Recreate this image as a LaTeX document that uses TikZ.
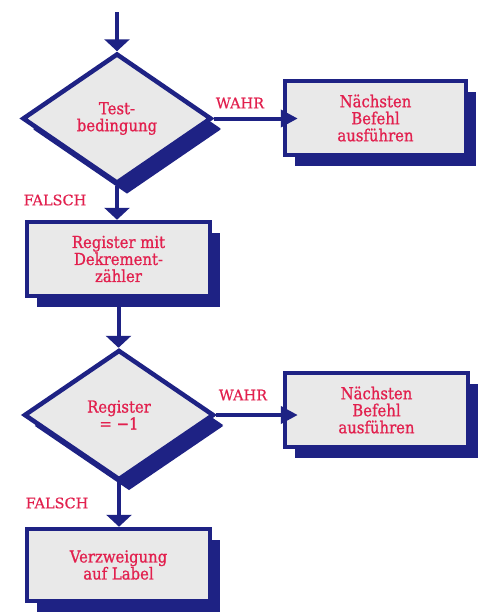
\documentclass[tikz,border=0pt]{standalone}
\usepackage{fontspec}
\setmainfont[FakeStretch=0.9,FakeBold=1]{DejaVu Serif}
\newfontfamily\labfont[FakeBold=0.4]{DejaVu Serif}
\usetikzlibrary{shapes.geometric,shadows,arrows.meta}
\definecolor{navy}{RGB}{30,34,132}
\definecolor{txtred}{RGB}{226,32,78}
\definecolor{boxfill}{RGB}{233,233,233}
\begin{document}
\begin{tikzpicture}[x=1pt,y=-1pt,
  basebox/.style={draw=navy, line width=4.5pt, fill=boxfill, text=txtred,
    align=center, font=\fontsize{16.5}{17}\selectfont,
    drop shadow={shadow xshift=10pt, shadow yshift=-11pt, fill=navy, opacity=1}},
  process/.style={basebox, rectangle},
  decision/.style={basebox, diamond, inner sep=0pt, drop shadow={shadow xshift=10pt, shadow yshift=-10pt, fill=navy, opacity=1}},
  conn/.style={draw=navy, line width=4pt},
  vtip/.style={-{Triangle[width=25pt,length=12pt]}},
  htip/.style={-{Triangle[width=17pt,length=17pt]}, shorten >=-15pt},
  lab/.style={text=txtred, font=\labfont\fontsize{14.5}{16}\selectfont, inner sep=0pt}
]
\useasboundingbox (0,0) rectangle (486,614);
\fill[white] (0,0) rectangle (486,614);

\node[decision, minimum width=189pt, minimum height=130pt] (d1) at (117,118.5) {Test-\\bedingung};
\node[process, minimum width=181pt, minimum height=74pt] (r1) at (375.5,118) {Nächsten\\Befehl\\ausführen};
\node[process, minimum width=183pt, minimum height=74pt] (b1) at (118.5,259) {Register mit\\Dekrement-\\zähler};
\node[decision, minimum width=190pt, minimum height=130pt] (d2) at (119,415) {Register\\= −1};
\node[process, minimum width=183pt, minimum height=74pt] (r2) at (376.5,410) {Nächsten\\Befehl\\ausführen};
\node[process, minimum width=183pt, minimum height=72pt] (b3) at (118.5,565) {Verzweigung\\auf Label};

\coordinate (start) at (117,12);
\draw[conn, vtip] (start) -- (d1.north);
\draw[conn, vtip] (d1.south) -- (d1.south |- b1.north);
\draw[conn, vtip] (b1.south) -- (b1.south |- d2.north);
\draw[conn, vtip] (d2.south) -- (d2.south |- b3.north);
\draw[conn, htip] (d1.east) -- (d1.east -| r1.west);
\draw[conn, htip] (d2.east) -- (d2.east -| r2.west);

\node[lab] (w1) at (240,103) {WAHR};
\node[lab] (w2) at (243,395) {WAHR};
\node[lab] (f1) at (55,200) {FALSCH};
\node[lab] (f2) at (57,503) {FALSCH};
\end{tikzpicture}
\end{document}
